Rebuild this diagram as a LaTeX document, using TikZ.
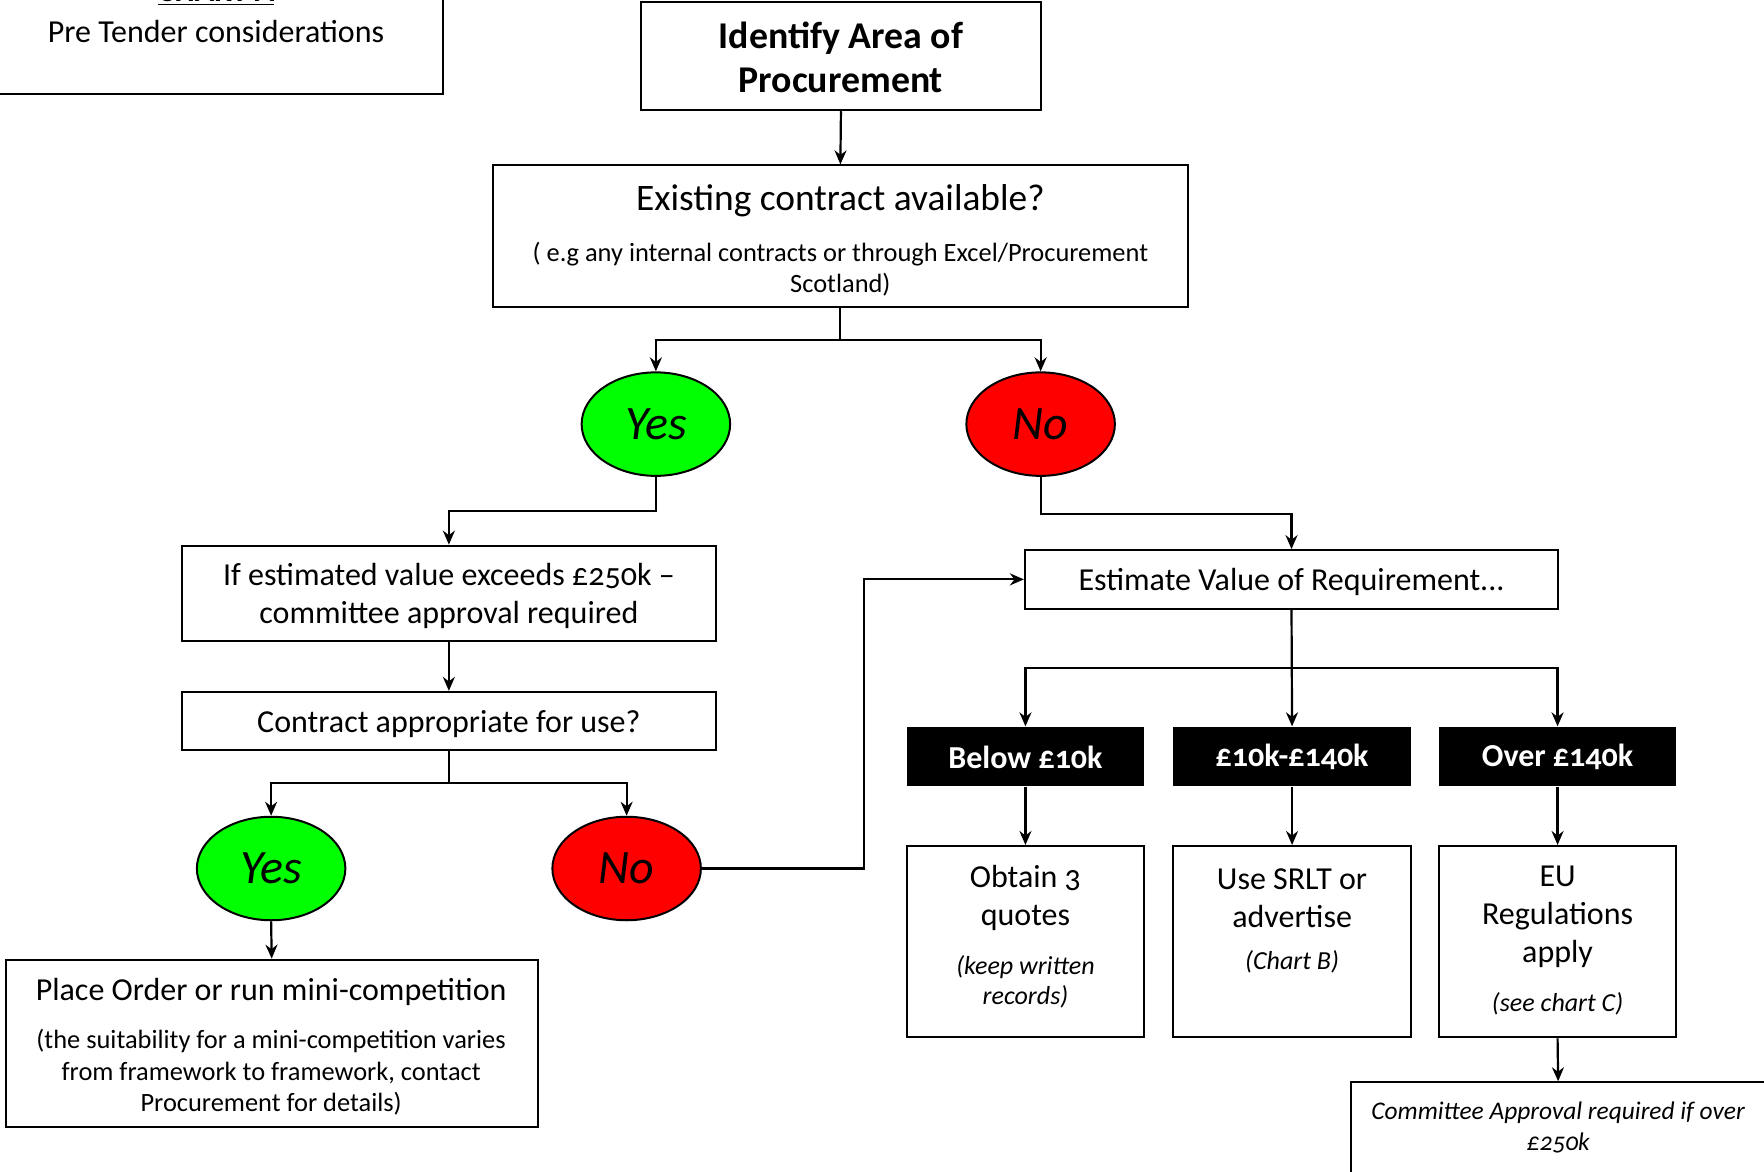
\documentclass[tikz,border=0pt]{standalone}
\usepackage{fontspec}
\setmainfont{Carlito}[Numbers=OldStyle]
\usetikzlibrary{arrows.meta,shapes.geometric}
\definecolor{yesgreen}{RGB}{0,255,0}
\definecolor{nored}{RGB}{255,0,0}
\begin{document}
\begin{tikzpicture}[x=0.5625pt,y=-0.5625pt,
  box/.style={draw, line width=1pt, inner sep=0pt, fill=white},
  sz/.style 2 args={minimum width=#1*0.5625pt, minimum height=#2*0.5625pt},
  blk/.style={fill=black, inner sep=0pt},
  blktxt/.style={text=white, inner sep=0pt, yshift=-0.2pt, font=\fontsize{16}{19}\selectfont\bfseries},
  oval/.style={ellipse, draw, line width=1pt, inner sep=0pt,
    minimum width=132*0.5625pt, minimum height=92*0.5625pt,
    font=\fontsize{24}{28}\selectfont\itshape},
  txt/.style={align=center, inner sep=0pt, yshift=-1.4pt, font=\fontsize{16}{19}\selectfont},
  bigtxt/.style={align=center, inner sep=0pt, yshift=-1.4pt, font=\fontsize{18.7}{22}\selectfont},
  boldtxt/.style={align=center, inner sep=0pt, yshift=-0.6pt, font=\fontsize{18.9}{22}\selectfont\bfseries},
  note/.style={align=center, inner sep=0pt, yshift=-1.2pt, font=\fontsize{13.2}{15.75}\selectfont},
  inote/.style={align=center, inner sep=0pt, yshift=-1.2pt, font=\fontsize{13}{15.2}\selectfont\itshape},
  link/.style={line width=1.1pt},
  arr/.style={line width=1.1pt, -{Stealth[length=7pt,width=6pt]}}]

\clip (0,0) rectangle (1568,1041);
\fill[white] (0,0) rectangle (1568,1041);

% title panel
\node[box, sz={399}{150}] (chartA) at (194.5,9) {};
\node[anchor=base, inner sep=0pt, font=\fontsize{16}{19}\selectfont\bfseries] (chartT) at (192,1) {\underline{CHART A}};
\node[inner sep=0pt, yshift=-0.6pt, font=\fontsize{16}{19}\selectfont] (chartS) at (192,27) {Pre Tender considerations};

% top of the flow
\node[box, sz={355}{96}] (identify) at (747.5,50) {};
\node[boldtxt] (identifyT) at (747.5,50) {Identify Area of\\Procurement};
\node[box, sz={618}{126}] (existing) at (747,210) {};
\node[bigtxt] (existingT) at (747,176) {Existing contract available?};
\node[note] (existingN) at (747,237) {( e.g any internal contracts or through Excel/Procurement\\Scotland)};

\node[oval, fill=yesgreen] (yes1) at (583,377) {Yes};
\node[oval, fill=nored] (no1) at (925,377) {No};
\coordinate (fork1) at (747,302);

% existing contract branch
\node[box, sz={474}{85}] (estim) at (399,527.5) {};
\node[txt] (estimT) at (399,527.5) {If estimated value exceeds £250k –\\committee approval required};
\node[box, sz={474}{52}] (approp) at (399,641) {};
\node[txt] (appropT) at (399,641) {Contract appropriate for use?};
\coordinate (fork2) at (399,696);
\node[oval, fill=yesgreen] (yes2) at (241,772) {Yes};
\node[oval, fill=nored] (no2) at (557,772) {No};
\node[box, sz={473}{149}] (place) at (241.5,927.5) {};
\node[txt] (placeT) at (241,879) {Place Order or run mini-competition};
\node[note] (placeN) at (241,951) {(the suitability for a mini-competition varies\\from framework to framework, contact\\Procurement for details)};

% value estimate branch
\node[box, sz={474}{52}] (estval) at (1148,515) {};
\node[txt] (estvalT) at (1148,515) {Estimate Value of Requirement...};
\coordinate (fork3) at (1148,594);
\node[blk, sz={211}{53}] (below) at (911.5,672.5) {};
\node[blktxt] (belowT) at (911.5,672.5) {Below £10k};
\node[blk, sz={211}{53}] (mid) at (1148.5,672.5) {};
\node[blktxt] (midT) at (1148.5,672.5) {£10k-£140k};
\node[blk, sz={211}{53}] (over) at (1384.5,672.5) {};
\node[blktxt] (overT) at (1384.5,672.5) {Over £140k};

\node[box, sz={211}{170}] (obtain) at (911.5,837) {};
\node[txt] (obtainT) at (911.5,795.5) {Obtain 3\\quotes};
\node[inote] (obtainN) at (911.5,870.5) {(keep written\\records)};
\node[box, sz={211}{170}] (srlt) at (1148.5,837) {};
\node[txt] (srltT) at (1148.5,795.5) {Use SRLT or\\advertise};
\node[inote] (srltN) at (1148.5,853) {(Chart B)};
\node[box, sz={211}{170}] (eu) at (1384.5,837) {};
\node[txt, font=\fontsize{16}{19}\selectfont] (euT) at (1384.5,812.5) {EU\\Regulations\\apply};
\node[inote] (euN) at (1384.5,890) {(see chart C)};

\node[box, sz={368}{118}] (committee) at (1385,1021) {};
\node[inote, font=\fontsize{12.7}{15.2}\selectfont\itshape] (committeeT) at (1385,1000) {Committee Approval required if over\\£250k};

% connectors
\draw[arr] (identify.south) -- (existing.north);
\draw[link] (existing.south) -- (fork1);
\draw[arr] (fork1) -| (yes1.north);
\draw[arr] (fork1) -| (no1.north);
\draw[arr] (yes1.south) -- ++(0,30) -| (estim.north);
\draw[arr] (estim.south) -- (approp.north);
\draw[link] (approp.south) -- (fork2);
\draw[arr] (fork2) -| (yes2.north);
\draw[arr] (fork2) -| (no2.north);
\draw[arr] (yes2.south) -- (place.north);
\draw[arr] (no2.east) -- ++(144,0) |- (estval.west);
\draw[arr] (no1.south) -- ++(0,33) -| (estval.north);
\draw[arr] (estval.south) -- (mid.north);
\draw[arr] (fork3) -| (below.north);
\draw[arr] (fork3) -| (over.north);
\draw[arr] (below.south) -- (obtain.north);
\draw[arr] (mid.south) -- (srlt.north);
\draw[arr] (over.south) -- (eu.north);
\draw[arr] (eu.south) -- (committee.north);
\end{tikzpicture}
\end{document}
